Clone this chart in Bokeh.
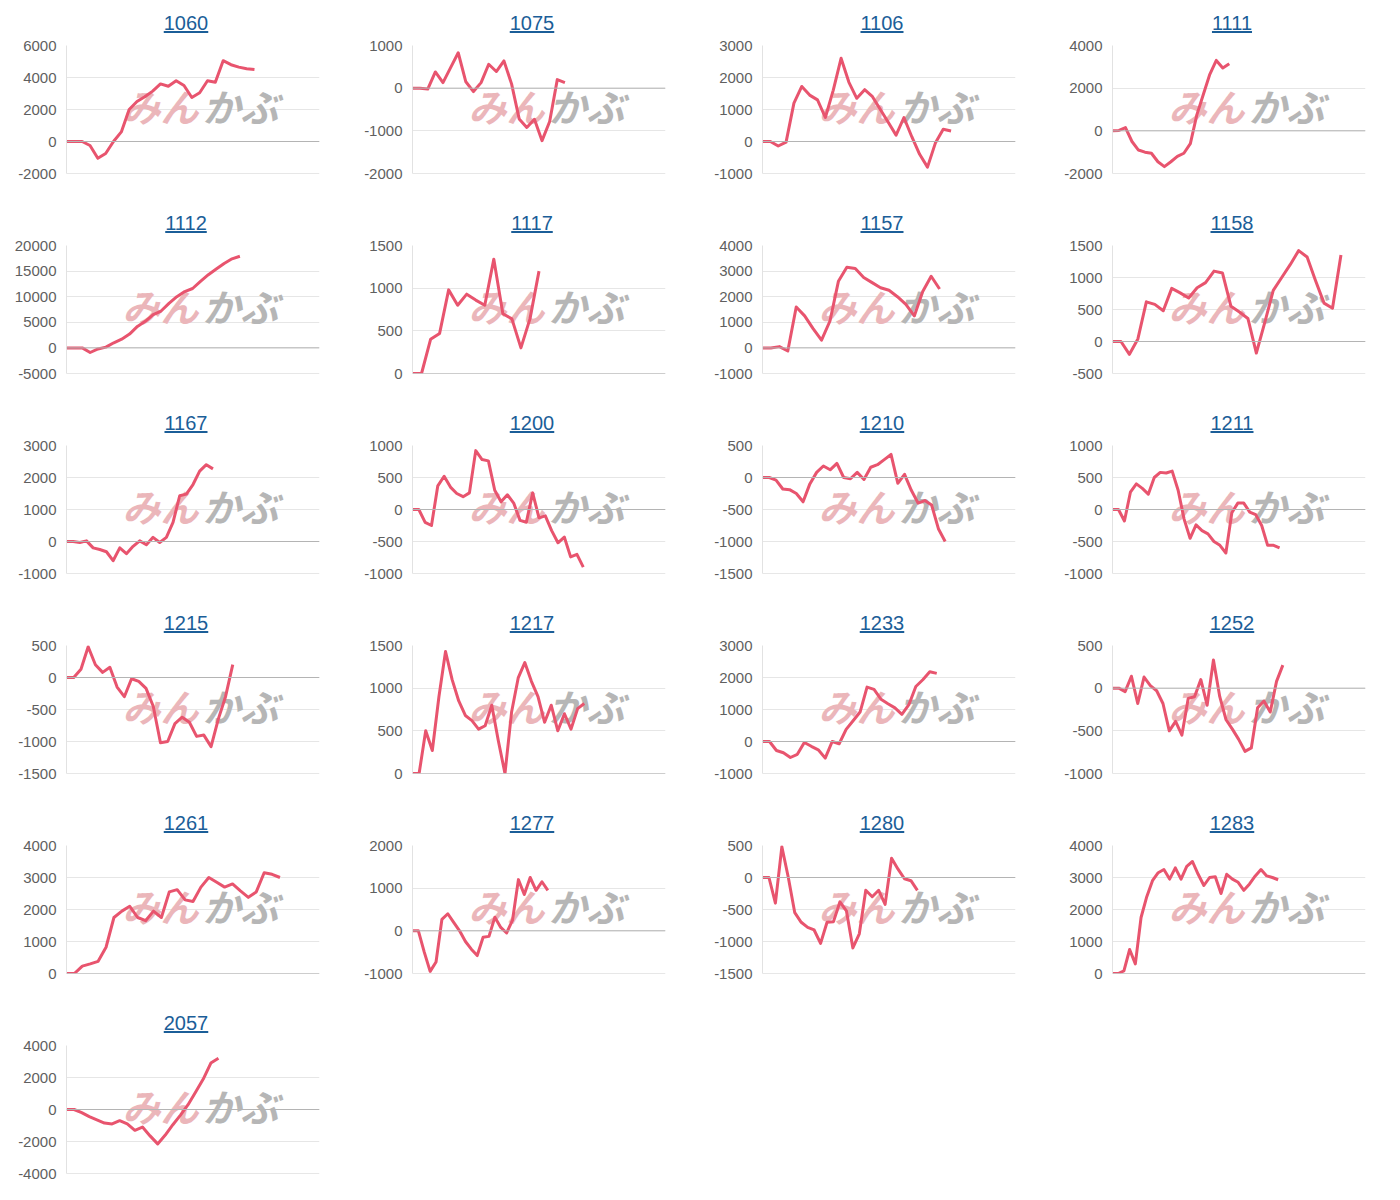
from bokeh.plotting import figure
from bokeh.models import Range1d, FixedTicker, Span, Div, PrintfTickFormatter
from bokeh.layouts import column, row
from bokeh.embed import file_html
from bokeh.resources import INLINE
from bokeh.core.properties import value

# ---- data (cumulative P/L per code) ----
codes = [["1060", "1075", "1106", "1111"],
         ["1112", "1117", "1157", "1158"],
         ["1167", "1200", "1210", "1211"],
         ["1215", "1217", "1233", "1252"],
         ["1261", "1277", "1280", "1283"],
         ["2057"]]

v1060 = [0, 0, 0, -250, -1050, -750, 0, 600, 2000, 2500, 2800, 3150, 3600, 3450, 3800, 3500, 2750, 3050, 3800, 3700, 5050, 4800, 4650, 4550, 4500]
v1075 = [0, 0, -20, 380, 130, 480, 830, 150, -80, 130, 560, 390, 640, 100, -720, -920, -730, -1230, -780, 200, 130]
v1106 = [0, 0, -140, -20, 1200, 1720, 1450, 1300, 750, 1600, 2600, 1850, 1350, 1620, 1400, 1000, 600, 200, 750, 150, -400, -800, -50, 380, 330]
v1111 = [0, 20, 150, -500, -900, -1000, -1050, -1450, -1680, -1450, -1200, -1050, -600, 750, 1700, 2650, 3300, 2950, 3150]
v1112 = [0, 0, 0, -900, -200, 150, 1000, 1700, 2700, 4200, 5200, 6500, 7200, 8700, 10000, 11000, 11600, 13000, 14300, 15400, 16500, 17400, 17900]
v1117 = [0, 0, 400, 470, 980, 800, 930, 860, 800, 1340, 700, 640, 300, 640, 1200]
v1157 = [0, 0, 50, -120, 1600, 1250, 750, 300, 1050, 2600, 3150, 3100, 2750, 2550, 2350, 2250, 2000, 1700, 1250, 2200, 2800, 2300]
v1158 = [0, 0, -200, 40, 620, 580, 480, 830, 760, 680, 840, 920, 1100, 1070, 550, 460, 360, -180, 300, 800, 1000, 1200, 1420, 1320, 950, 600, 520, 1350]
v1167 = [0, 0, -30, 20, -200, -250, -320, -600, -200, -380, -150, 20, -100, 130, -30, 130, 600, 1430, 1480, 1780, 2200, 2400, 2270]
v1200 = [0, 0, -200, -250, 370, 520, 350, 250, 200, 260, 920, 780, 760, 300, 120, 230, 100, -170, -200, 260, -130, -100, -330, -520, -430, -740, -700, -900]
v1210 = [0, 0, -40, -180, -190, -250, -380, -100, 80, 180, 120, 220, 0, -20, 80, -30, 160, 200, 280, 360, -90, 50, -200, -400, -360, -430, -800, -1000]
v1211 = [0, 0, -180, 270, 400, 330, 240, 500, 580, 570, 600, 300, -150, -450, -240, -330, -380, -500, -560, -680, -50, 100, 100, -40, -80, -250, -560, -560, -600]
v1215 = [0, 0, 130, 480, 200, 80, 160, -150, -300, -20, -60, -170, -450, -1020, -1000, -720, -620, -700, -920, -900, -1080, -650, -300, 200]
v1217 = [0, 0, 500, 270, 900, 1430, 1100, 850, 680, 620, 520, 560, 800, 380, 0, 720, 1120, 1300, 1080, 900, 600, 800, 500, 700, 520, 760, 820]
v1233 = [0, 0, -280, -350, -500, -400, -30, -150, -260, -520, 0, -70, 380, 650, 920, 1700, 1630, 1320, 1180, 1050, 850, 1150, 1720, 1930, 2180, 2130]
v1252 = [0, 0, -40, 140, -180, 130, 30, -30, -180, -500, -390, -550, -120, -100, 100, -200, 330, -100, -370, -480, -600, -740, -700, -230, -150, -280, 80, 270]
v1261 = [0, 0, 230, 300, 380, 820, 1750, 1950, 2100, 1750, 1650, 1950, 1750, 2550, 2620, 2300, 2250, 2700, 3000, 2850, 2700, 2800, 2580, 2380, 2550, 3150, 3100, 3000]
v1277 = [0, 0, -500, -950, -730, 270, 400, 200, 0, -250, -430, -580, -150, -130, 320, 80, -50, 250, 1200, 850, 1250, 950, 1150, 950]
v1280 = [0, 0, -400, 480, 0, -550, -700, -780, -820, -1030, -700, -690, -380, -520, -1100, -880, -200, -300, -200, -420, 300, 130, -20, -50, -200]
v1283 = [0, 0, 80, 750, 300, 1750, 2400, 2900, 3150, 3250, 2950, 3300, 2950, 3350, 3500, 3100, 2750, 3000, 3020, 2500, 3100, 2950, 2850, 2600, 2800, 3050, 3250, 3050, 3000, 2930]
v2057 = [0, 0, -200, -450, -650, -850, -900, -700, -900, -1300, -1100, -1650, -2150, -1600, -950, -350, 300, 1100, 1900, 2900, 3200]

series = {"1060": v1060, "1075": v1075, "1106": v1106, "1111": v1111,
          "1112": v1112, "1117": v1117, "1157": v1157, "1158": v1158,
          "1167": v1167, "1200": v1200, "1210": v1210, "1211": v1211,
          "1215": v1215, "1217": v1217, "1233": v1233, "1252": v1252,
          "1261": v1261, "1277": v1277, "1280": v1280, "1283": v1283,
          "2057": v2057}

# y-axis tick labels per panel
y_ticks = {"1060": [-2000, 0, 2000, 4000, 6000], "1075": [-2000, -1000, 0, 1000],
           "1106": [-1000, 0, 1000, 2000, 3000], "1111": [-2000, 0, 2000, 4000],
           "1112": [-5000, 0, 5000, 10000, 15000, 20000], "1117": [0, 500, 1000, 1500],
           "1157": [-1000, 0, 1000, 2000, 3000, 4000], "1158": [-500, 0, 500, 1000, 1500],
           "1167": [-1000, 0, 1000, 2000, 3000], "1200": [-1000, -500, 0, 500, 1000],
           "1210": [-1500, -1000, -500, 0, 500], "1211": [-1000, -500, 0, 500, 1000],
           "1215": [-1500, -1000, -500, 0, 500], "1217": [0, 500, 1000, 1500],
           "1233": [-1000, 0, 1000, 2000, 3000], "1252": [-1000, -500, 0, 500],
           "1261": [0, 1000, 2000, 3000, 4000], "1277": [-1000, 0, 1000, 2000],
           "1280": [-1500, -1000, -500, 0, 500], "1283": [0, 1000, 2000, 3000, 4000],
           "2057": [-4000, -2000, 0, 2000, 4000]}

# number of x slots spanned by each panel's horizontal axis
x_slots = {"1060": 32.3, "1075": 33.2, "1106": 32.2, "1111": 39.0,
           "1112": 32.1, "1117": 28.0, "1157": 30.0, "1158": 29.9,
           "1167": 38.0, "1200": 40.0, "1210": 37.4, "1211": 42.4,
           "1215": 35.0, "1217": 38.3, "1233": 36.3, "1252": 40.1,
           "1261": 32.0, "1277": 43.0, "1280": 39.2, "1283": 44.3,
           "2057": 33.3}

CELL_W = 350
TITLE_H = 36
LINE_COLOR = "#e8546e"


def make_cell(code, col, last=False):
    ml = 55 if col == 0 else 51
    title = Div(
        text=('<div style="width:262px;margin-left:%dpx;text-align:center;'
              'font-family:\'Liberation Sans\',Arial,sans-serif;font-size:20px;'
              'color:#1b5e98;text-decoration:underline;padding-top:11px;'
              'line-height:24px;">%s</div>' % (ml, code)),
        width=CELL_W, height=TITLE_H, margin=(0, 0, 0, 0))
    fig_h = 150 if last else 164
    t = y_ticks[code]
    span = x_slots[code]
    left = 66 if col == 0 else 62
    p = figure(width=CELL_W, height=fig_h, output_backend="svg",
               toolbar_location=None,
               x_range=Range1d(0, span), y_range=Range1d(t[0], t[-1]),
               min_border_left=left, min_border_right=CELL_W - left - 253,
               min_border_top=9, min_border_bottom=fig_h - 9 - 128,
               margin=(0, 0, 0, 0))
    p.outline_line_color = None
    p.background_fill_color = "white"
    p.border_fill_color = "white"
    p.xaxis.visible = False
    p.xgrid.visible = False
    p.ygrid.grid_line_color = "#e6e6e6"
    p.yaxis.ticker = FixedTicker(ticks=t)
    p.yaxis.formatter = PrintfTickFormatter(format="%d")
    p.yaxis.axis_line_color = "#e2e2e2"
    p.yaxis.major_tick_line_color = None
    p.yaxis.minor_tick_line_color = None
    p.yaxis.major_tick_out = 0
    p.yaxis.major_tick_in = 0
    p.yaxis.major_label_standoff = 10
    p.yaxis.major_label_text_font = "Liberation Sans"
    p.yaxis.major_label_text_font_size = "15px"
    p.yaxis.major_label_text_color = "#5f5f5f"

    p.add_layout(Span(location=t[0], dimension="width", line_color="#cfcfcf", line_width=1))
    p.add_layout(Span(location=0, dimension="width", line_color="#b4b4b4", line_width=1))

    # watermark
    yc = t[0] + 0.53 * (t[-1] - t[0])
    xc = span * 0.53
    p.text(x=[xc], y=[yc], text=["みん"], text_align="right", text_baseline="middle",
           text_font=value("Noto Sans CJK JP"), text_font_style="bold italic",
           text_font_size="38px", text_color="#ebb6ba", x_offset=-2)
    p.text(x=[xc], y=[yc], text=["かぶ"], text_align="left", text_baseline="middle",
           text_font=value("Noto Sans CJK JP"), text_font_style="bold italic",
           text_font_size="38px", text_color="#b6b6b6", x_offset=2)

    vals = series[code]
    p.line(x=list(range(len(vals))), y=vals, line_color=LINE_COLOR, line_width=3,
           line_join="round")
    return column(title, p, spacing=0)


rows = []
for i, r in enumerate(codes):
    last = (i == len(codes) - 1)
    rows.append(row([make_cell(c, j, last) for j, c in enumerate(r)], spacing=0))
layout = column(rows, spacing=0)

open("out.html", "w").write(file_html(layout, INLINE))
